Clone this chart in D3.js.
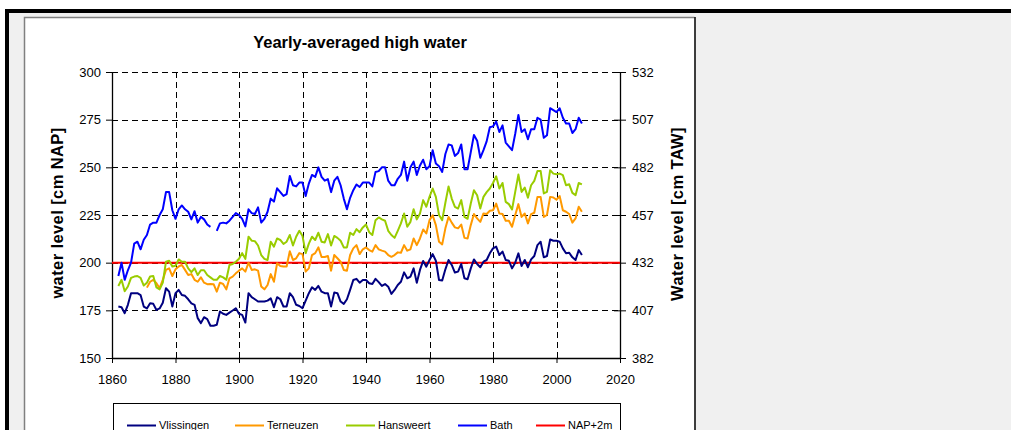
<!DOCTYPE html>
<html>
<head>
<meta charset="utf-8">
<script src="https://cdn.jsdelivr.net/npm/d3@7/dist/d3.min.js"></script>
<style>
  body { margin: 0; background: #fff; }
  svg { display: block; font-family: "Liberation Sans", Arial, sans-serif; }
</style>
</head>
<body>
<svg id="chart" width="1011" height="430"></svg>
<script>
// yearly-averaged high water, cm NAP, 1862..2008
const firstYear = 1862;
const lastYear = 2008;

const vlissingen = [
  177, 176.6, 173.5, 177.9, 184, 184, 184, 183,
  177, 176, 178.7, 178.4, 175.2, 176, 179, 186.6, 184.8, 177,
  184, 185.7, 183, 182.6, 180.8, 178.7, 177.9, 170.9, 168.3, 171.4,
  170.4, 166.9, 166.9, 167.4, 174.4, 173.2, 172.6, 173.8, 174.9, 176.1,
  173.2, 172.6, 168.6, 184, 181.9, 180.8, 179.6, 179.6, 179.6, 180.1,
  181.3, 176.6, 181.9, 180.8, 177, 177, 184, 181.9, 177.9, 177.3,
  176.1, 180.1, 184, 187.1, 185.7, 187.8, 184.8, 184, 184, 177,
  184.3, 184, 179.6, 178.4, 180.8, 185.7, 190.9, 191.5, 189.5, 190.9,
  190.9, 189.2, 188.8, 191.5, 189.8, 187.8, 188.8, 187.4, 183.6, 185.7,
  188.3, 190, 194.9, 191.8, 192.7, 197, 189.5, 196.2, 200.9, 197.9,
  201.4, 204.5, 201, 190.9, 190.6, 196.5, 201.4, 198.8, 194.8, 195.3,
  199.3, 191.8, 191.3, 197, 201.7, 199.3, 197.6, 200.5, 201.4, 204.9,
  207.5, 208.4, 204, 205.8, 201.4, 201, 197, 200, 204.9, 198.3,
  201.4, 197.6, 201.7, 203.5, 209.2, 211, 202.8, 203.5, 212.2, 211.5,
  211.5, 211, 207.5, 204.9, 205.2, 202.8, 201.4, 206.6, 204
];

const terneuzen = [
  null, null, null, null, null, null, null, null,
  null, 186.9, 190, 191, 189.2, 186.6, 191, 196.2, 197, 193,
  196.5, 198, 198.8, 196.2, 193.5, 194, 191, 190, 192.3, 189.5,
  188.7, 188.8, 188.7, 184.8, 189.5, 188.8, 186, 191.8, 192.7, 194.4,
  195.8, 197, 195.3, 200, 196.2, 196.5, 195.8, 187.5, 186, 188.3,
  194, 190, 199.7, 198.3, 198, 198, 206, 201.4, 202.3, 205,
  204.5, 195.3, 197, 204, 205, 208, 203, 203, 203.5, 195.8,
  204, 202.3, 200.5, 196.2, 195.8, 204, 207.5, 209.2, 204.5, 207,
  208, 206.6, 205.8, 209.2, 207, 206.3, 205.8, 204, 203.1, 204,
  205.4, 205.2, 209.2, 206.3, 207, 212.7, 209.2, 212.7, 217.4, 215.3,
  222.3, 224.9, 219.7, 211, 209.6, 218, 224, 221, 218.5, 218,
  220, 213, 212.7, 219.7, 225.5, 223.2, 221.4, 225.8, 225.5, 227.2,
  227.5, 231, 225.8, 225.5, 222, 222, 218.8, 225, 230.7, 224,
  225.8, 220.6, 225.5, 226.2, 234.5, 234.5, 224, 225, 234.5, 234.2,
  233, 234.9, 227.5, 226.7, 225.5, 221, 223.2, 229.3, 226.7
];

const hansweert = [
  187.8, 191, 185, 187.5, 192, 192.7, 193, 192,
  188, 189.5, 192.7, 193, 187, 186, 189.5, 200.5, 201, 198,
  198.4, 201.7, 200.5, 200.5, 197, 195, 197, 193.5, 196, 196,
  193.5, 192.3, 191, 191, 193, 192.3, 191, 198.8, 199.3, 200.5,
  202, 205, 202, 213.6, 211.5, 211.3, 209, 204, 202, 201.4,
  211, 208.4, 212.7, 211.9, 209.8, 211, 214.5, 209, 213.6, 216.7,
  214, 205, 210, 213.6, 211.9, 215.7, 211, 210.6, 215, 209,
  214, 213, 211.5, 208, 208, 215.7, 214.5, 217.6, 216, 218.5,
  220, 216, 214.5, 222.3, 223.7, 222.7, 222, 216.7, 214.5, 213,
  216.7, 220.6, 225.8, 218.8, 221.4, 228, 222.7, 225.8, 232.8, 229.3,
  234.5, 238.9, 234.5, 225, 222.3, 231.4, 240, 233.6, 229.3, 228.4,
  232.8, 224, 223, 231, 238, 235.4, 228.4, 234.5, 237, 238.9,
  241.8, 245.3, 238.9, 241.8, 231.9, 230.7, 227.9, 237.1, 246.2, 237.1,
  239.4, 234.1, 240.6, 242.9, 248.1, 248.1, 236.3, 237.1, 248.5, 246.7,
  246.4, 246.7, 245.9, 240.6, 241.1, 236.6, 235.4, 241.8, 241.1
];

const bath = [
  193, 200, 191, 196, 200, 210, 211, 207,
  212, 214.5, 220, 221, 221, 225, 228, 237, 237, 227.5,
  223, 228, 230, 228, 226.7, 222.7, 227, 221, 224, 222.7,
  220, 218.8, null, 216.7, 220.6, 221, 220.6, 222, 224, 226,
  225, 223, 219, 228, 226, 225.5, 229, 221, 223, 226.7,
  233.6, 232, 239, 237, 235, 236, 245.5, 240.6, 240, 242,
  242, 235, 241.5, 246, 245, 250, 245, 243, 243.8, 237,
  243, 245, 240.6, 233.6, 228, 234, 238, 241, 239.7, 242,
  242, 242, 240, 247.6, 248, 250, 250, 243, 240.6, 240.6,
  244, 246, 253, 243, 250, 253, 246, 251, 254, 249,
  250.6, 259, 252, 250.6, 247.6, 257, 262, 261.5, 256, 257.5,
  262, 249, 249, 258, 267, 264, 255, 259, 263.6, 271,
  271.5, 274, 268.5, 272, 263, 261, 259, 267.6, 277.5, 268.5,
  270, 264.7, 270, 270, 276, 275, 265.5, 266.8, 281, 280,
  279, 281, 276, 273, 273, 268, 270, 276, 273
];

const napLevel = 200;

const seriesNames = ["Vlissingen", "Terneuzen", "Hansweert", "Bath"];
const seriesColors = ["#000080", "#FF9900", "#99CC00", "#0000FF"];
const refName = "NAP+2m";
const refColor = "#FF0000";

const xTicks = [1860, 1880, 1900, 1920, 1940, 1960, 1980, 2000, 2020];
const yTicks = [150, 175, 200, 225, 250, 275, 300];
const y2Ticks = [382, 407, 432, 457, 482, 507, 532];

const years = d3.range(firstYear, lastYear + 1);
const allSeries = [vlissingen, terneuzen, hansweert, bath];

const svg = d3.select("#chart");

// --- frame / background ---
svg.append("rect").attr("x", 5).attr("y", 9).attr("width", 1006).attr("height", 421).attr("fill", "#000");
svg.append("rect").attr("x", 9).attr("y", 13).attr("width", 1002).attr("height", 417).attr("fill", "#f0f0f0");
svg.append("rect").attr("x", 24.5).attr("y", 17.5).attr("width", 670).attr("height", 430).attr("fill", "#fff");
svg.append("path").attr("d", "M24.5,440V17.5H694.5").attr("fill", "none").attr("stroke", "#808080").attr("stroke-width", 1.5);
svg.append("line").attr("x1", 695).attr("x2", 695).attr("y1", 17).attr("y2", 430).attr("stroke", "#000").attr("stroke-width", 1.5);

// --- scales ---
const x = d3.scaleLinear().domain([1860, 2020]).range([112, 620]);
const y = d3.scaleLinear().domain([150, 300]).range([358, 72]);
const y2 = d3.scaleLinear().domain([382, 532]).range([358, 72]);

// gridlines
const grid = svg.append("g").attr("stroke", "#000").attr("stroke-width", 1).attr("stroke-dasharray", "6,4");
grid.selectAll(".hg").data(yTicks.slice(1)).enter().append("line")
  .attr("x1", x(1860)).attr("x2", x(2020))
  .attr("y1", d => Math.round(y(d)) + 0.5).attr("y2", d => Math.round(y(d)) + 0.5);
grid.selectAll(".vg").data(xTicks.slice(1, -1)).enter().append("line")
  .attr("y1", y(300)).attr("y2", y(150))
  .attr("x1", d => Math.round(x(d)) + 0.5).attr("x2", d => Math.round(x(d)) + 0.5);

// --- axes ---
const fontSize = "13px";

const leftAxis = svg.append("g").attr("transform", `translate(${x(1860)},0)`)
  .call(d3.axisLeft(y).tickValues(yTicks).tickSize(6).tickSizeOuter(0).tickPadding(5));
const rightAxis = svg.append("g").attr("transform", `translate(${x(2020)},0)`)
  .call(d3.axisRight(y2).tickValues(y2Ticks).tickSize(6).tickSizeOuter(0).tickPadding(6));
rightAxis.selectAll(".tick line").attr("x1", -6);
const bottomAxis = svg.append("g").attr("transform", `translate(0,${y(150)})`)
  .call(d3.axisBottom(x).tickValues(xTicks).tickFormat(d3.format("d")).tickSize(5).tickSizeOuter(0).tickPadding(12));

[leftAxis, rightAxis, bottomAxis].forEach(a => {
  a.selectAll("path.domain").attr("stroke", "#000").attr("stroke-width", 1.3);
  a.selectAll(".tick line").attr("stroke", "#000");
  a.selectAll("text").attr("font-size", fontSize).attr("fill", "#000")
    .style("font-family", '"Liberation Sans", Arial, sans-serif');
});

// --- reference line and series ---
svg.append("line")
  .attr("x1", x(1860)).attr("x2", x(2020))
  .attr("y1", y(napLevel)).attr("y2", y(napLevel))
  .attr("stroke", refColor).attr("stroke-width", 2);

const line = d3.line()
  .defined(d => d[1] != null)
  .x(d => x(d[0]))
  .y(d => y(d[1]));

allSeries.forEach((vals, i) => {
  svg.append("path")
    .datum(years.map((yr, j) => [yr, vals[j]]))
    .attr("d", line)
    .attr("fill", "none")
    .attr("stroke", seriesColors[i])
    .attr("stroke-width", 2)
    .attr("stroke-linejoin", "round");
});

// --- titles ---
svg.append("text").attr("x", 360).attr("y", 48).attr("text-anchor", "middle")
  .attr("font-size", "16.5px").attr("font-weight", "bold").text("Yearly-averaged high water");

svg.append("text").attr("transform", "translate(63,213) rotate(-90)").attr("text-anchor", "middle")
  .attr("font-size", "16.5px").attr("font-weight", "bold").attr("letter-spacing", "0.4px")
  .text("water level [cm NAP]");

svg.append("text").attr("transform", "translate(683,214) rotate(-90)").attr("text-anchor", "middle")
  .attr("font-size", "16.5px").attr("font-weight", "bold").attr("letter-spacing", "0.4px")
  .text("Water level [cm TAW]");

// --- legend ---
const legend = svg.append("g");
legend.append("rect").attr("x", 113.5).attr("y", 403.5).attr("width", 507).attr("height", 40)
  .attr("fill", "#fff").attr("stroke", "#000").attr("stroke-width", 1);

const legendNames = seriesNames.concat([refName]);
const legendColors = seriesColors.concat([refColor]);
const legendX = [127, 235, 346, 458, 536];

legendNames.forEach((name, i) => {
  legend.append("line")
    .attr("x1", legendX[i]).attr("x2", legendX[i] + 29)
    .attr("y1", 425.5).attr("y2", 425.5)
    .attr("stroke", legendColors[i]).attr("stroke-width", 2);
  legend.append("text")
    .attr("x", legendX[i] + 32).attr("y", 429)
    .attr("font-size", "11px").text(name);
});
</script>
</body>
</html>
